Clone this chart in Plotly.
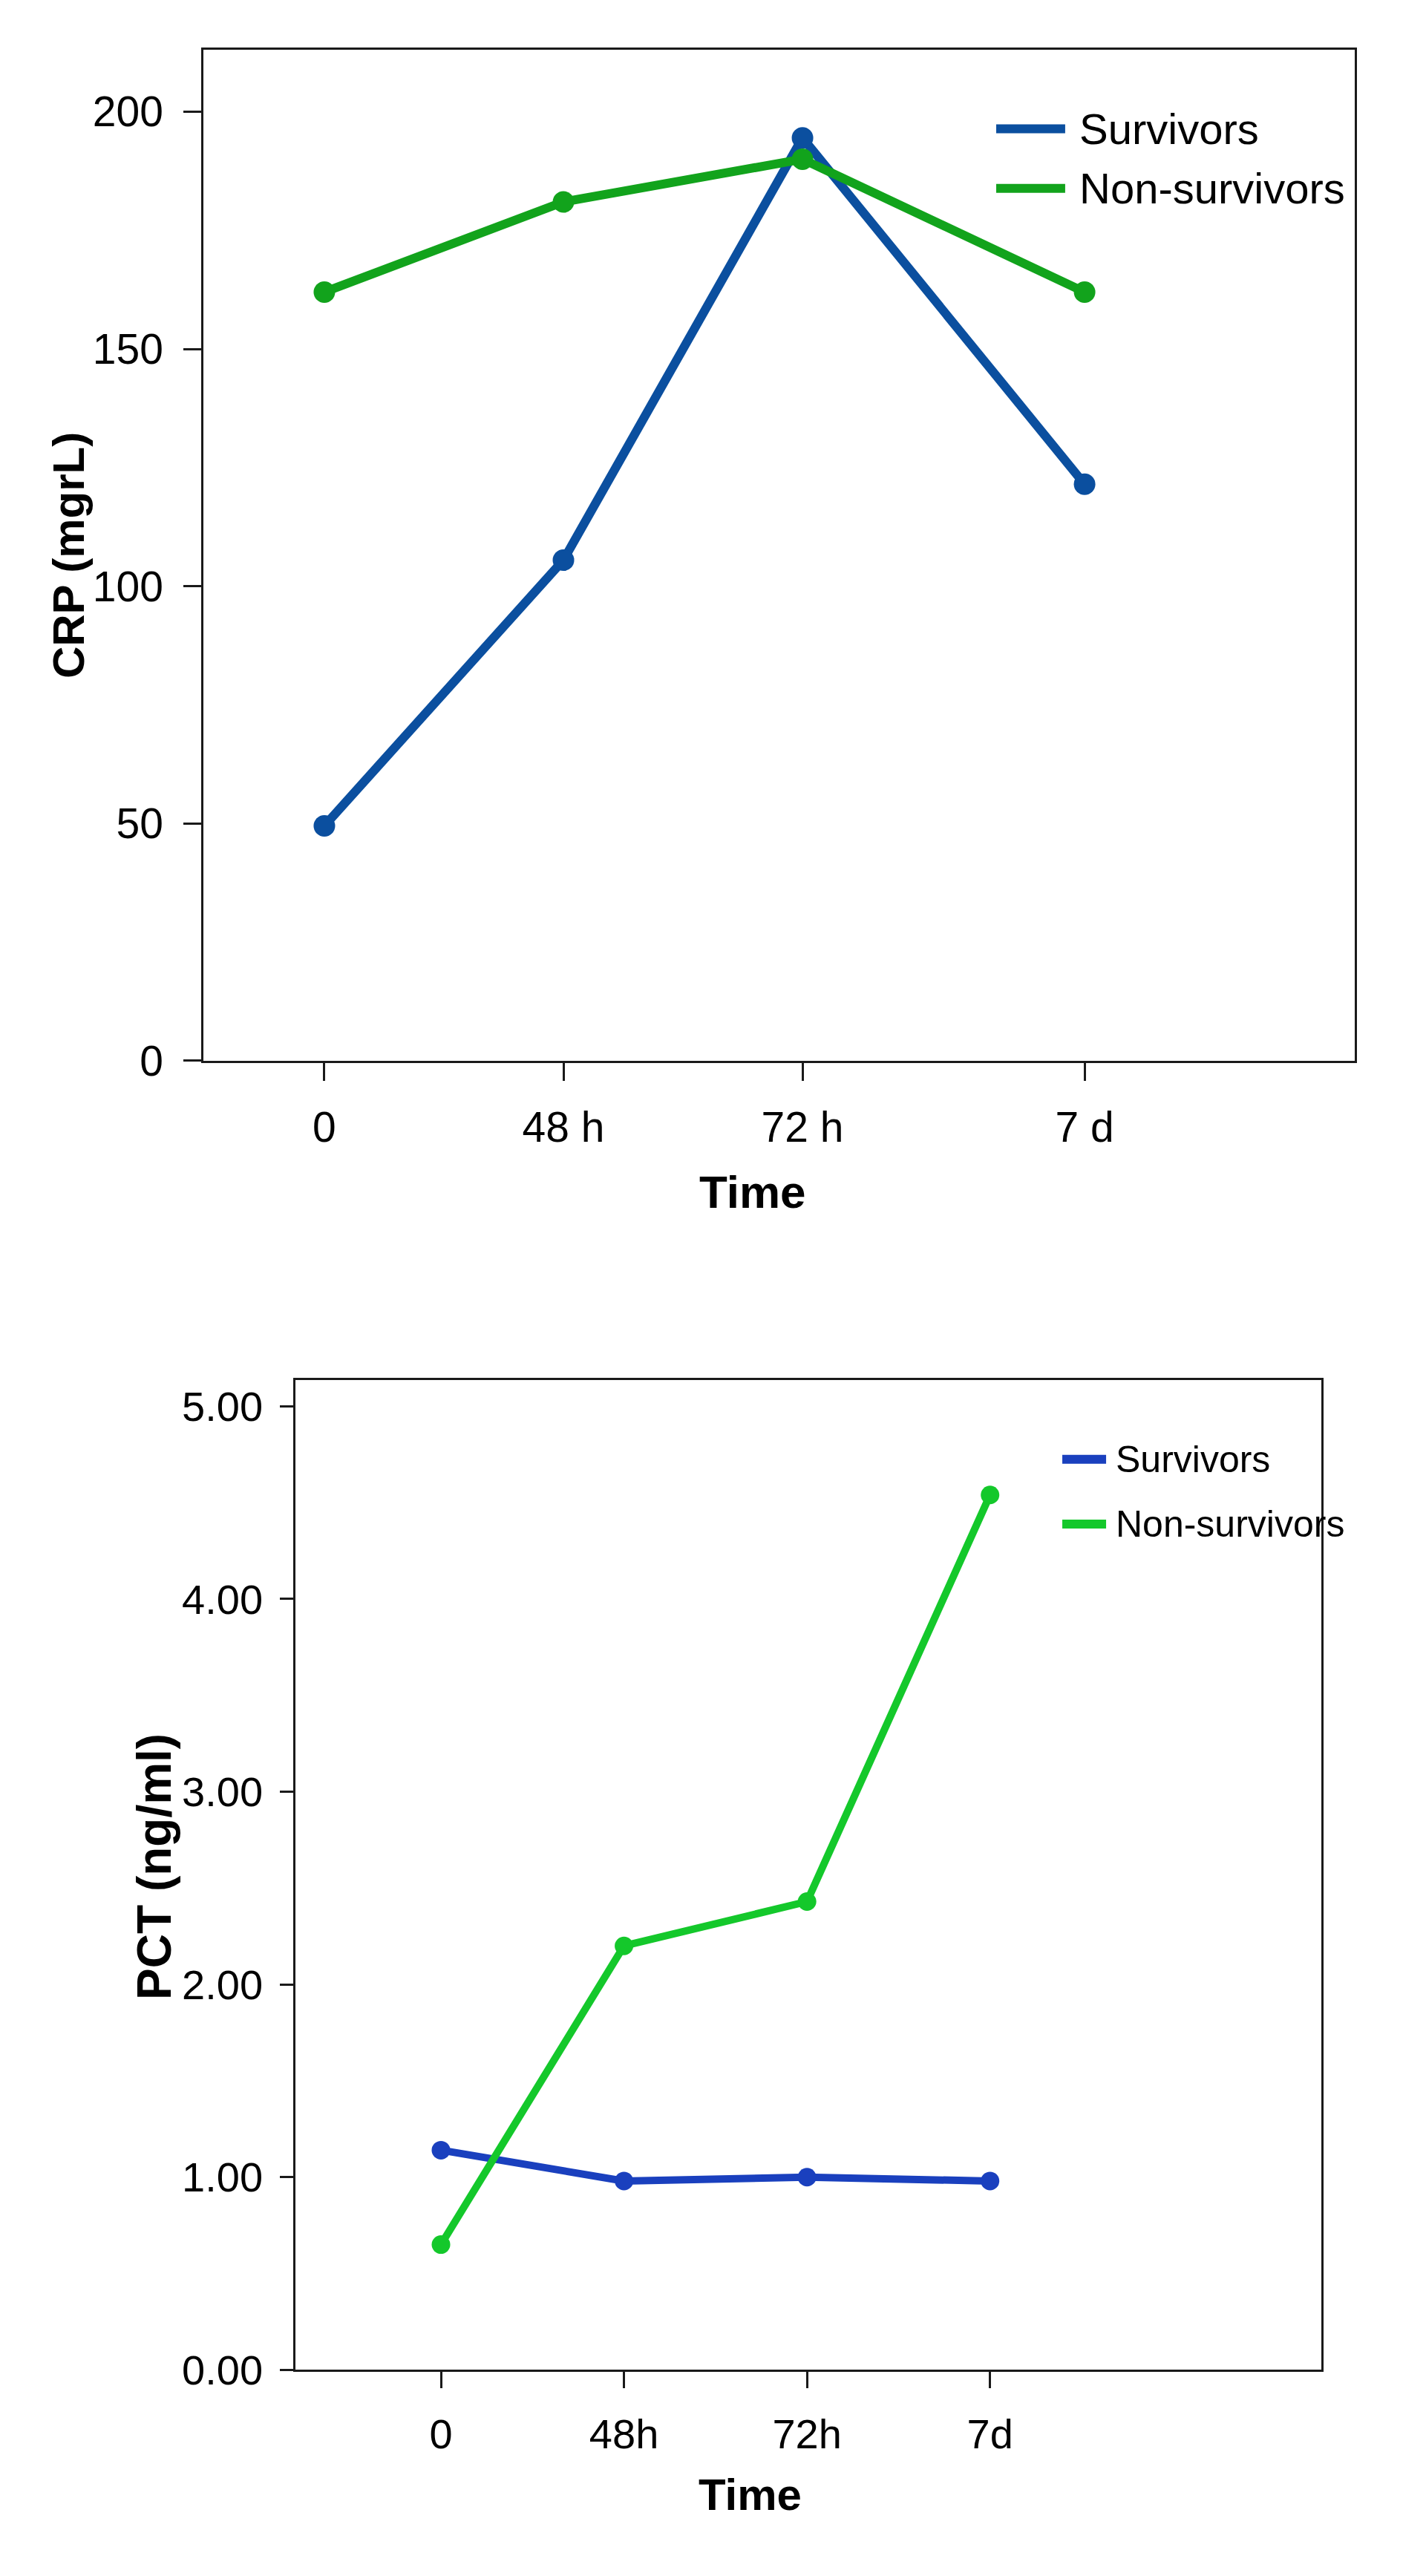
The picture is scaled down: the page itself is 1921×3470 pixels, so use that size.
import plotly.graph_objects as go

# ---- data ----
crp_labels = ["0", "48 h", "72 h", "7 d"]
crp_x = [0, 1, 2, 3.18]          # the 7 d column sits a bit further right in the original
crp_survivors = [49.5, 105.5, 194.5, 121.5]
crp_nonsurvivors = [162, 181, 190, 162]

pct_labels = ["0", "48h", "72h", "7d"]
pct_survivors = [1.14, 0.98, 1.00, 0.98]
pct_nonsurvivors = [0.65, 2.20, 2.43, 4.54]

series_names = ["Survivors", "Non-survivors"]

W, H = 1921, 3470
reg = "Liberation Sans, Arial, sans-serif"
narrow = "Liberation Sans Narrow, Arial Narrow, Liberation Sans, Arial, sans-serif"

top_col = ["#0b4f9f", "#12a31c"]
bot_col = ["#1a40be", "#14c82b"]

fig = go.Figure()

for vals, col, name in zip([crp_survivors, crp_nonsurvivors], top_col, series_names):
    fig.add_trace(go.Scatter(x=crp_x, y=vals, name=name, mode="lines+markers",
                             line=dict(color=col, width=12),
                             marker=dict(color=col, size=29),
                             xaxis="x", yaxis="y", showlegend=False))

for vals, col, name in zip([pct_survivors, pct_nonsurvivors], bot_col, series_names):
    fig.add_trace(go.Scatter(x=pct_labels, y=vals, name=name, mode="lines+markers",
                             line=dict(color=col, width=10),
                             marker=dict(color=col, size=25),
                             xaxis="x2", yaxis="y2", showlegend=False))

axis_common = dict(showline=True, linecolor="#1a1a1a", linewidth=2.5, mirror=True,
                   showgrid=False, zeroline=False, ticks="outside",
                   tickcolor="#1a1a1a", tickwidth=2.5)

fig.update_layout(
    width=W, height=H,
    margin=dict(l=0, r=0, t=0, b=0),
    paper_bgcolor="white", plot_bgcolor="white",
    xaxis=dict(axis_common, domain=[266 / W, 1817 / W], anchor="y",
               range=[-0.506, 4.31], tickvals=crp_x, ticktext=crp_labels,
               ticklen=24, ticklabelstandoff=14,
               tickfont=dict(family=reg, size=57, color="black")),
    yaxis=dict(axis_common, domain=[1 - 1434 / H, 1 - 60 / H], anchor="x",
               range=[0, 213], tickvals=[0, 50, 100, 150, 200],
               ticklen=24, ticklabelstandoff=16,
               tickfont=dict(family=reg, size=57, color="black")),
    xaxis2=dict(axis_common, domain=[390 / W, 1772 / W], anchor="y2",
                type="category", categoryorder="array", categoryarray=pct_labels,
                range=[-0.795, 4.81], ticklen=22, ticklabelstandoff=14,
                tickfont=dict(family=narrow, size=56, color="black")),
    yaxis2=dict(axis_common, domain=[1 - 3214 / H, 1 - 1868 / H], anchor="x2",
                range=[0, 5.137], tickvals=[0, 1, 2, 3, 4, 5], tickformat=".2f",
                ticklen=18, ticklabelstandoff=12,
                tickfont=dict(family=narrow, size=56, color="black")),
)

# axis titles
titles = [
    ("<b>Time</b>", "x domain", "paper", 0.477, 1 - 1612 / H, 0, reg, 62),
    ("<b>CRP (mgrL)</b>", "paper", "y domain", 84 / W, 0.5, -90, reg, 60),
    ("<b>Time</b>", "x2 domain", "paper", 0.443, 1 - 3384 / H, 0, narrow, 60),
    ("<b>PCT (ng/ml)</b>", "paper", "y2 domain", 200 / W, 0.508, -90, reg, 64),
]
for txt, xr, yr, xx, yy, ang, fam, fs in titles:
    fig.add_annotation(text=txt, xref=xr, yref=yr, x=xx, y=yy, textangle=ang,
                       xanchor="center", yanchor="middle", showarrow=False,
                       font=dict(family=fam, size=fs, color="black"))

# hand-made legends (the original uses long key lines)
legends = [
    ("x domain", "y domain", top_col, [0.6886, 0.7485], 0.7596, [0.9221, 0.8632], reg, 58),
    ("x2 domain", "y2 domain", bot_col, [0.7475, 0.7902], 0.798, [0.9198, 0.8544], narrow, 50),
]
for xr, yr, cols, (x0, x1), xt, ys, fam, fs in legends:
    for name, col, yy in zip(series_names, cols, ys):
        fig.add_shape(type="line", xref=xr, yref=yr, x0=x0, x1=x1, y0=yy, y1=yy,
                      line=dict(color=col, width=12))
        fig.add_annotation(text=name, xref=xr, yref=yr, x=xt, y=yy,
                           xanchor="left", yanchor="middle", showarrow=False,
                           font=dict(family=fam, size=fs, color="black"))

fig.write_html("out.html")
